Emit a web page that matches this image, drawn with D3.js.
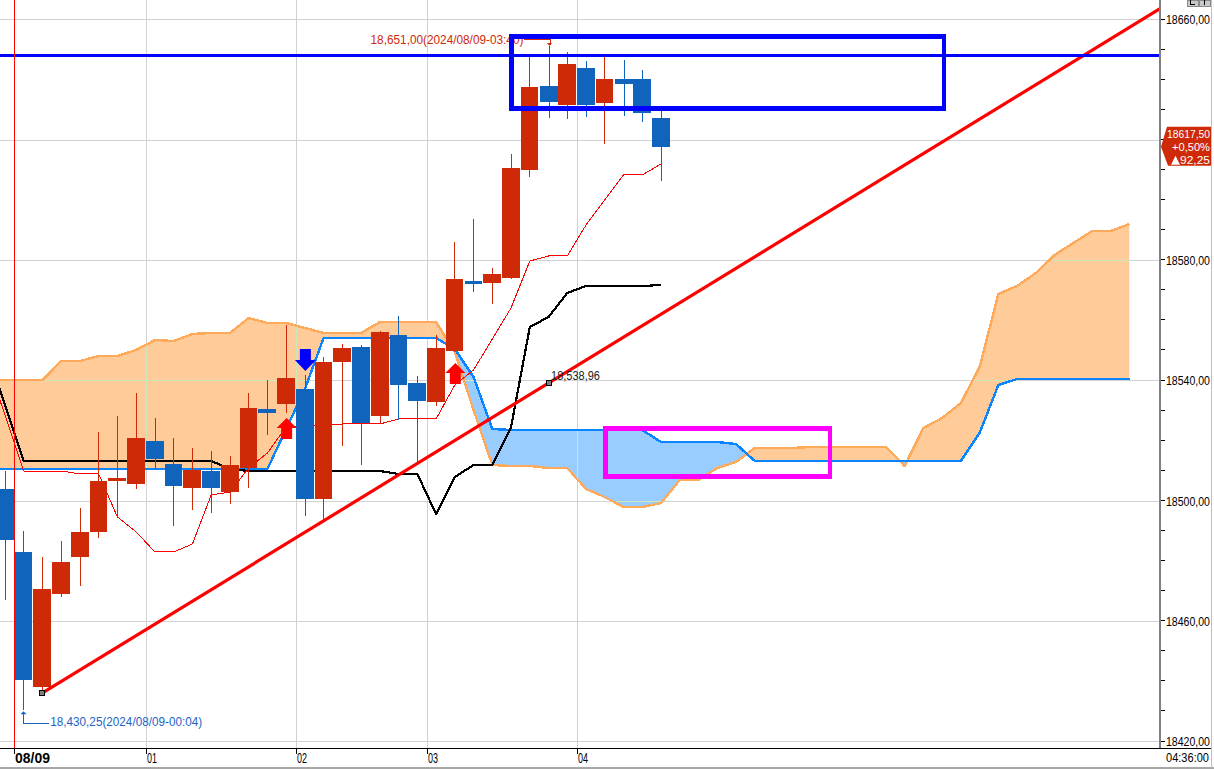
<!DOCTYPE html>
<html>
<head>
<meta charset="utf-8">
<script src="https://cdn.jsdelivr.net/npm/d3@7/dist/d3.min.js"></script>
<style>
html,body{margin:0;padding:0;background:#fff;overflow:hidden}
svg{display:block}
text{font-family:"Liberation Sans",Arial,sans-serif}
</style>
</head>
<body>
<svg id="chart" width="1214" height="770"></svg>
<script>
// Candles: index is the position in the arrays; red = up, blue = down
const candleOpen  = [18503.77,18482.83,18437.95,18468.87,18481.17,18489.48,18506.43,18505.43,18519.73,18512.08,18504.10,18509.75,18502.77,18510.75,18530.36,18532.03,18537.01,18500.45,18545.99,18550.97,18528.04,18554.96,18539.01,18532.69,18549.64,18572.91,18572.25,18573.91,18609.81,18637.73,18631.42,18643.72,18632.08,18640.06,18640.06,18627.10];
const candleClose = [18486.82,18440.28,18470.53,18479.51,18489.48,18506.43,18507.43,18520.72,18513.74,18504.77,18510.09,18504.10,18511.75,18530.70,18529.03,18540.67,18500.45,18545.99,18550.64,18525.71,18555.96,18538.34,18533.02,18550.64,18573.58,18571.92,18575.24,18610.48,18637.40,18632.41,18645.05,18631.42,18640.06,18638.40,18628.76,18617.50];
const candleHigh  = [18509.75,18489.81,18481.17,18486.49,18497.46,18522.72,18528.04,18535.68,18527.37,18520.72,18517.40,18516.40,18514.74,18535.68,18540.00,18558.29,18541.67,18547.65,18551.97,18551.64,18556.29,18561.28,18541.33,18554.96,18585.88,18593.52,18577.23,18615.13,18647.37,18651.00,18649.03,18646.04,18647.37,18646.38,18643.05,18629.42];
const candleLow   = [18466.87,18430.25,18435.96,18467.87,18471.53,18487.48,18494.46,18503.77,18510.42,18491.47,18496.79,18495.79,18498.79,18504.10,18521.72,18529.03,18494.80,18493.13,18518.07,18511.75,18525.38,18526.71,18511.75,18531.36,18549.31,18569.26,18565.27,18573.58,18607.48,18627.10,18626.76,18627.43,18618.45,18627.76,18625.77,18606.15];

// Indicator lines all start one bar before the first candle (index -1)
const cloudUpper = [18540.00,18540.00,18540.00,18540.00,18546.32,18546.32,18547.98,18547.98,18549.98,18553.30,18552.97,18555.30,18555.63,18555.63,18560.61,18558.95,18558.95,18557.29,18555.63,18555.63,18555.63,18559.28,18559.28,18559.28,18559.28,18549.31,18530.03,18511.75,18511.42,18511.42,18510.75,18510.75,18503.77,18501.11,18497.79,18497.79,18499.12,18506.76,18506.76,18510.75,18512.75,18517.40,18517.40,18517.40,18517.73,18517.73,18517.73,18517.73,18517.73,18511.42,18524.05,18527.37,18532.36,18544.33,18568.59,18571.25,18575.57,18581.56,18585.54,18589.53,18589.53,18591.86];
const cloudLower = [18510.42,18510.42,18510.42,18510.42,18510.42,18510.42,18510.42,18510.42,18510.42,18510.42,18510.42,18510.42,18510.42,18510.42,18510.42,18510.42,18523.72,18537.01,18553.97,18553.97,18553.97,18553.97,18553.97,18553.97,18553.97,18550.31,18541.00,18523.72,18523.38,18523.38,18523.38,18523.38,18523.38,18523.38,18523.38,18523.38,18519.39,18519.39,18519.39,18519.39,18518.73,18513.08,18513.08,18513.08,18513.08,18513.08,18513.08,18513.08,18513.08,18513.08,18513.08,18513.08,18513.08,18522.39,18538.34,18540.34,18540.34,18540.34,18540.34,18540.34,18540.34,18540.34];
const baseLine   = [18549.98,18531.69,18513.08,18513.08,18513.08,18513.08,18513.08,18513.08,18513.08,18513.08,18513.08,18513.08,18513.08,18510.42,18509.75,18509.75,18509.75,18509.75,18509.75,18509.75,18509.75,18509.75,18508.76,18508.76,18495.46,18507.76,18511.75,18511.75,18524.38,18557.62,18560.95,18568.92,18571.25,18571.25,18571.25,18571.25,18571.58];
const turnLine   = [18546.32,18528.37,18509.75,18509.75,18509.75,18508.76,18508.76,18494.46,18489.48,18482.83,18482.83,18485.49,18501.78,18502.77,18510.75,18515.74,18524.38,18524.71,18525.05,18525.38,18525.38,18525.38,18527.04,18527.04,18527.04,18538.34,18543.33,18553.63,18563.94,18579.56,18581.22,18581.22,18591.53,18599.84,18608.15,18608.15,18611.80];

// Axes
const yTickPrices = [18660,18650,18640,18630,18620,18610,18600,18590,18580,18570,18560,18550,18540,18530,18520,18510,18500,18490,18480,18470,18460,18450,18440,18430,18420];
const yGridPrices = [18660,18620,18580,18540,18500,18460,18420];
const yLabelPrices = [18660,18580,18540,18500,18460,18420];
const xTickIndex  = [0.52,7.55,15.55,22.55,30.55];
const xTickLabels = ['08/09','01','02','03','04'];
const cornerTime  = '04:36:00';

// Annotations
const trendIndex = [2,29];
const trendPrice = [18435.96,18538.96];
const horizontalPrice = 18648;
const upArrows   = [[15,18527.37],[24,18545.65]];
const downArrows = [[16,18543.0]];
const blueBoxIndex = [27.02,50.1],  blueBoxPrice = [18654.19,18630.25];
const pinkBoxIndex = [32.04,44.02], pinkBoxPrice = [18523.88,18507.93];
const highLabel = '18,651,00(2024/08/09-03:40)';
const lowLabel  = '18,430,25(2024/08/09-00:04)';
const trendLabel = '18,538,96';
const badgeLines = ['18617,50','+0,50%','92,25'];

const RED='#CF2A08', BLUE='#1064BC', GRID='#D2D2D2';
const plotW=1160, plotB=748;

const x = d3.scaleLinear().domain([0,35]).range([5,661]);
const y = d3.scaleLinear().domain([18420,18660]).range([741,19]);
const gridX = d=>Math.floor(x(d))+.5;
const gridY = d=>Math.round(y(d)+.3)+.5;

const svg = d3.select('#chart');
const defs = svg.append('defs');
defs.append('clipPath').attr('id','plot').append('rect').attr('x',0).attr('y',0).attr('width',plotW).attr('height',plotB);

const root = svg.append('g');
const plot = root.append('g').attr('clip-path','url(#plot)');

function drawGrid(g,colour){
  g.selectAll('.gy').data(yGridPrices).join('line').attr('class','gy')
    .attr('x1',0).attr('x2',plotW).attr('y1',gridY).attr('y2',gridY)
    .attr('stroke',colour).attr('shape-rendering','crispEdges');
  g.selectAll('.gx').data(xTickIndex.slice(1)).join('line').attr('class','gx')
    .attr('y1',0).attr('y2',plotB).attr('x1',gridX).attr('x2',gridX)
    .attr('stroke',colour).attr('shape-rendering','crispEdges');
}
drawGrid(plot.append('g'),GRID);

// Cloud
const n = cloudUpper.length;
const idx = d3.range(n);
const xc = i=>x(i-1);
const areaBand = d3.area().x(xc).y0(i=>y(cloudLower[i])).y1(i=>y(cloudUpper[i]));
const areaAboveLower = d3.area().x(xc).y0(-10).y1(i=>y(cloudLower[i]));
const areaBelowLower = d3.area().x(xc).y0(900).y1(i=>y(cloudLower[i]));
defs.append('clipPath').attr('id','aboveLower').append('path').attr('d',areaAboveLower(idx));
defs.append('clipPath').attr('id','belowLower').append('path').attr('d',areaBelowLower(idx));
defs.append('clipPath').attr('id','band').append('path').attr('d',areaBand(idx));
plot.append('path').attr('d',areaBand(idx)).attr('fill','#FFCC99').attr('clip-path','url(#aboveLower)');
plot.append('path').attr('d',areaBand(idx)).attr('fill','#99CCFF').attr('clip-path','url(#belowLower)');
drawGrid(plot.append('g').attr('clip-path','url(#band)'),'#CDE6BC');

const lineFrom = (arr)=>d3.line().x((d,i)=>x(i-1)).y(d=>y(d))(arr);
function stroke(arr,col,w){
  plot.append('path').attr('d',lineFrom(arr)).attr('fill','none').attr('stroke',col)
    .attr('stroke-width',w).attr('stroke-linejoin','round').attr('shape-rendering','crispEdges');
}
stroke(cloudUpper,'#FFAA5A',2.4);
stroke(cloudLower,'#0A84FF',2.4);
stroke(baseLine,'#000000',2.2);
stroke(turnLine,'#FF0000',1);

// Candles
const bodyW = p=>{const f=p-Math.floor(p);return f>=.55&&f<.85?17:18;};
const bodyL = p=>Math.round(p)-9;
const candles = d3.range(candleOpen.length).map(i=>({i,o:candleOpen[i],c:candleClose[i],h:candleHigh[i],l:candleLow[i]}));
const cg = plot.append('g').attr('shape-rendering','crispEdges');
const col = d=>d.c>=d.o?RED:BLUE;
const wickX = d=>{const p=x(d.i);return bodyL(p)+Math.floor(bodyW(p)/2)+.5;};
cg.selectAll('line').data(candles).join('line')
  .attr('x1',wickX).attr('x2',wickX)
  .attr('y1',d=>y(d.h)).attr('y2',d=>y(d.l)).attr('stroke',col);
cg.selectAll('rect').data(candles).join('rect')
  .attr('x',d=>bodyL(x(d.i))).attr('width',d=>bodyW(x(d.i)))
  .attr('y',d=>y(Math.max(d.o,d.c))).attr('height',d=>Math.abs(y(d.o)-y(d.c)))
  .attr('fill',col);

// Signal arrows
const upShape = 'M0,0L10,10L5.5,10L5.5,21L-5.5,21L-5.5,10L-10,10Z';
const downShape = 'M0,0L10.5,-11L5.5,-11L5.5,-22L-5.5,-22L-5.5,-11L-10.5,-11Z';
plot.selectAll('.up').data(upArrows).join('path').attr('class','up')
  .attr('transform',d=>`translate(${x(d[0])+.5},${y(d[1])})`).attr('d',upShape).attr('fill','#FF0000');
plot.selectAll('.down').data(downArrows).join('path').attr('class','down')
  .attr('transform',d=>`translate(${x(d[0])+.5},${y(d[1])})`).attr('d',downShape).attr('fill','#0000FF');

// Trend line, extended past the chart's right edge
const trendScale = d3.scaleLinear().domain(trendIndex).range(trendPrice);
plot.append('line')
  .attr('x1',x(trendIndex[0])).attr('y1',y(trendPrice[0]))
  .attr('x2',x(63)).attr('y2',y(trendScale(63)))
  .attr('stroke','#FF0000').attr('stroke-width',3.2);

// Horizontal level
plot.append('line').attr('x1',0).attr('x2',plotW).attr('y1',y(horizontalPrice)).attr('y2',y(horizontalPrice))
  .attr('stroke','#0000FF').attr('stroke-width',3).attr('shape-rendering','crispEdges');

// Trend anchors
plot.selectAll('.anchor').data(trendIndex).join('rect').attr('class','anchor')
  .attr('x',d=>x(d)-2.5).attr('y',(d,i)=>y(trendPrice[i])-2.5).attr('width',5).attr('height',5)
  .attr('fill','#808080').attr('stroke','#000').attr('shape-rendering','crispEdges');

// Text, squeezed horizontally to the narrow face of the original
function txt(g,px,py,s,w,opt={}){
  const t=g.append('text').attr('dominant-baseline','central')
    .attr('font-size',opt.size||13).attr('fill',opt.fill||'#000').text(s);
  if(opt.bold) t.attr('font-weight','bold');
  const k=w?w/t.node().getComputedTextLength():1;
  t.attr('transform',`translate(${px},${py}) scale(${k},1)`);
  return t;
}

// Annotation labels
const hiX=x(29), hiY=y(18651), loX=x(1), loY=y(18430.25);
txt(root,hiX-178,hiY-6.5,highLabel,153,{fill:RED,size:13});
root.append('path').attr('d',`M${Math.round(hiX)-25},${hiY-6.5}H${Math.round(hiX)+1}V${hiY-1}`).attr('fill','none').attr('stroke',RED).attr('shape-rendering','crispEdges');
root.append('path').attr('d',`M${Math.round(hiX)-2},${hiY-3}H${Math.round(hiX)+3}L${Math.round(hiX)+.5},${hiY}Z`).attr('fill',RED);
txt(root,loX+26.5,loY+12,lowLabel,152,{fill:'#1E64C8',size:13});
root.append('path').attr('d',`M${Math.floor(loX)+.5},${loY+2}V${loY+13}H${loX+25}`).attr('fill','none').attr('stroke',BLUE).attr('shape-rendering','crispEdges');
root.append('path').attr('d',`M${Math.floor(loX)+.5},${loY+1}l3,3h-6Z`).attr('fill',BLUE);
txt(root,x(29)+2.5,y(trendPrice[1])-7,trendLabel,49,{size:13,fill:'#222'});

// Vertical session line
root.append('line').attr('x1',gridX(xTickIndex[0])).attr('x2',gridX(xTickIndex[0])).attr('y1',0).attr('y2',plotB)
  .attr('stroke','#FF0000').attr('stroke-width',1).attr('shape-rendering','crispEdges');

// Boxes
function box(ix,pr,c){
  root.append('rect').attr('x',x(ix[0])).attr('y',y(pr[0])).attr('width',x(ix[1])-x(ix[0])).attr('height',y(pr[1])-y(pr[0]))
    .attr('fill','none').attr('stroke',c).attr('stroke-width',4.6).attr('shape-rendering','crispEdges');
}
box(blueBoxIndex,blueBoxPrice,'#0000FF');
box(pinkBoxIndex,pinkBoxPrice,'#FF00FF');

// Right price axis
const yAxis = d3.axisRight(y).tickValues(yTickPrices).tickSize(5).tickFormat('').offset(0);
const ya = root.append('g').attr('transform',`translate(${plotW},0)`).call(yAxis);
ya.select('.domain').remove();
ya.selectAll('line').attr('stroke','#000').attr('shape-rendering','crispEdges');
ya.selectAll('text').remove();
yLabelPrices.forEach(d=>txt(root,1166,gridY(d),d+',00',44,{size:13.5}));
root.append('rect').attr('x',plotW-1).attr('y',0).attr('width',2).attr('height',plotB).attr('fill','#808080');

// Bottom time axis
const xAxis = d3.axisBottom(x).tickValues(xTickIndex).tickSize(6).tickFormat('').offset(0);
const xa = root.append('g').attr('transform',`translate(0,${plotB})`).call(xAxis);
xa.select('.domain').remove();
xa.selectAll('text').remove();
xa.selectAll('.tick').attr('transform',d=>`translate(${gridX(d)},0)`);
xa.selectAll('line').attr('stroke','#000').attr('shape-rendering','crispEdges');
xTickIndex.forEach((d,i)=>{
  const px=Math.floor(x(d))+1;
  if(i===0) txt(root,px,758,xTickLabels[i],35,{bold:true,size:14.5});
  else txt(root,px,758,xTickLabels[i],10,{size:14});
});
txt(root,1166,758,cornerTime,43,{size:13.5});
root.append('line').attr('x1',0).attr('x2',1211).attr('y1',plotB+.5).attr('y2',plotB+.5).attr('stroke','#000').attr('shape-rendering','crispEdges');
root.append('rect').attr('x',0).attr('y',767).attr('width',1214).attr('height',2).attr('fill','#A8A8A8');
root.append('rect').attr('x',1211).attr('y',0).attr('width',1).attr('height',768).attr('fill','#C0C0C0');

// Current-price badge
const bY=y(candleClose[candleClose.length-1]);
root.append('path').attr('d',`M1161,${bY}L1167,${bY-20}H1211V${bY+19}H1168Z`).attr('fill',RED);
txt(root,1167,bY-13,badgeLines[0],43,{fill:'#fff',size:11.5});
txt(root,1172,bY,badgeLines[1],38,{fill:'#fff',size:11.5});
txt(root,1180,bY+13,badgeLines[2],30,{fill:'#fff',size:11.5});
root.append('path').attr('d',`M1171,${bY+18}l4.5,-9l4.5,9Z`).attr('fill','#fff');

// Corner buttons
[[1187,11],[1199,11]].forEach(([bx,bw],i)=>{
  root.append('rect').attr('x',bx).attr('y',0).attr('width',bw).attr('height',6).attr('fill','#C8C8C8').attr('stroke','#8a8a8a').attr('shape-rendering','crispEdges');
  root.append('path').attr('d',i===0?`M${bx+3.5},0V4.5H${bx+7.5}`:`M${bx+5.5},0V5`).attr('fill','none').attr('stroke','#000').attr('shape-rendering','crispEdges');
});
</script>
</body>
</html>
